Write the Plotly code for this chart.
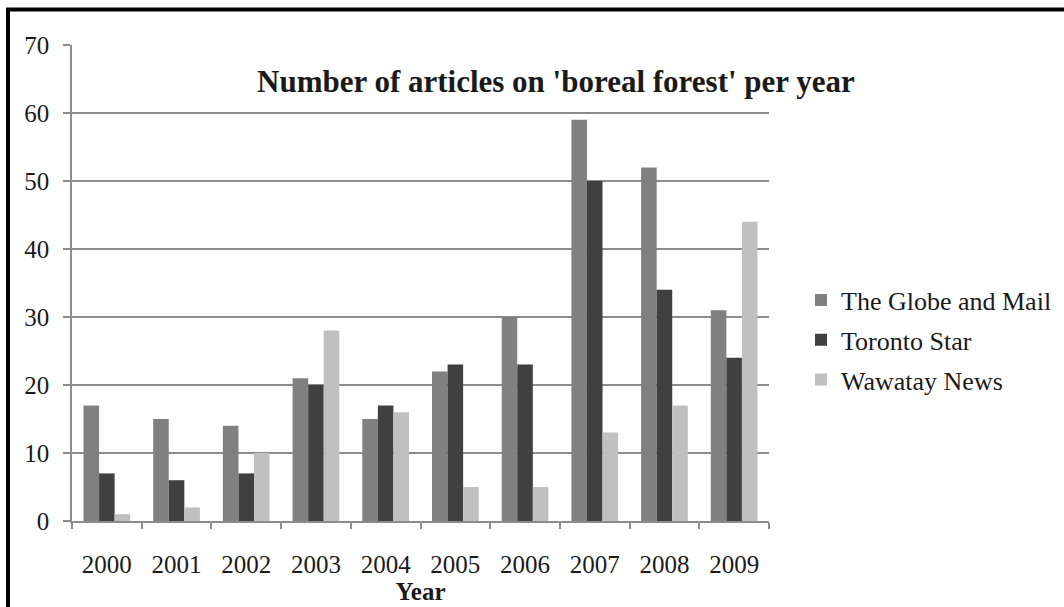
import plotly.graph_objects as go

# Article counts per year for three newspapers
years = ["2000", "2001", "2002", "2003", "2004", "2005", "2006", "2007", "2008", "2009"]
globe_and_mail = [17, 15, 14, 21, 15, 22, 30, 59, 52, 31]
toronto_star = [7, 6, 7, 20, 17, 23, 23, 50, 34, 24]
wawatay_news = [1, 2, 10, 28, 16, 5, 5, 13, 17, 44]

series_names = ["The Globe and Mail", "Toronto Star", "Wawatay News"]
series_colors = ["#808080", "#404040", "#c0c0c0"]
y_ticks = [0, 10, 20, 30, 40, 50, 60, 70]

W, H = 1064, 607
L, R, T, B = 72, 769, 45, 521  # plot area in pixels

def px_x(p):
    return (p - L) / (R - L)

def px_y(p):
    return (B - p) / (B - T)

SERIF = "Liberation Serif, Times New Roman, serif"
GRID = "#8c8c8c"
INK = "#1a1a1a"

fig = go.Figure()
for i, (name, vals, col) in enumerate(zip(series_names, [globe_and_mail, toronto_star, wawatay_news], series_colors)):
    fig.add_trace(go.Bar(
        x=years, y=vals, name=name, marker=dict(color=col, line=dict(width=0)),
        legendgroup=f"g{i}",
    ))

fig.update_layout(
    width=W, height=H,
    margin=dict(l=L, r=W - R, t=T, b=H - B, pad=0, autoexpand=False),
    plot_bgcolor="white", paper_bgcolor="white",
    barmode="group", bargap=0.33, bargroupgap=0,
    font=dict(family=SERIF, color=INK, size=25),
    showlegend=True,
    legend=dict(
        x=px_x(801), y=px_y(340), xanchor="left", yanchor="middle",
        font=dict(family=SERIF, size=26, color=INK),
        traceorder="grouped", tracegroupgap=3,
        itemwidth=30, bgcolor="rgba(0,0,0,0)",
    ),
    xaxis=dict(
        type="category", tickson="boundaries", ticks="outside", ticklen=6,
        tickcolor=GRID, tickwidth=1.5,
        showline=True, linecolor=GRID, linewidth=1.5,
        showgrid=False, tickfont=dict(family=SERIF, size=25, color=INK),
        ticklabelstandoff=20,
        title=dict(text="<b>Year</b>", font=dict(family=SERIF, size=25, color=INK), standoff=0),
    ),
    yaxis=dict(
        range=[0, 70], tickvals=y_ticks, ticks="outside", ticklen=7,
        tickcolor=GRID, tickwidth=1.5,
        showline=True, linecolor=GRID, linewidth=1.5,
        showgrid=True, gridcolor=GRID, gridwidth=1.5, zeroline=False,
        tickfont=dict(family=SERIF, size=25, color=INK),
        ticklabelstandoff=9,
    ),
    annotations=[dict(
        text="<b>Number of articles on 'boreal forest' per year</b>",
        x=px_x(556), y=px_y(82), xref="paper", yref="paper",
        xanchor="center", yanchor="middle", showarrow=False,
        font=dict(family=SERIF, size=31, color=INK),
    )],
    shapes=[dict(
        type="rect", xref="paper", yref="paper",
        x0=px_x(8), x1=px_x(1100), y0=px_y(640), y1=px_y(9.5),
        line=dict(color="black", width=4), fillcolor="rgba(0,0,0,0)", layer="above",
    )],
)

fig.write_html("out.html")
